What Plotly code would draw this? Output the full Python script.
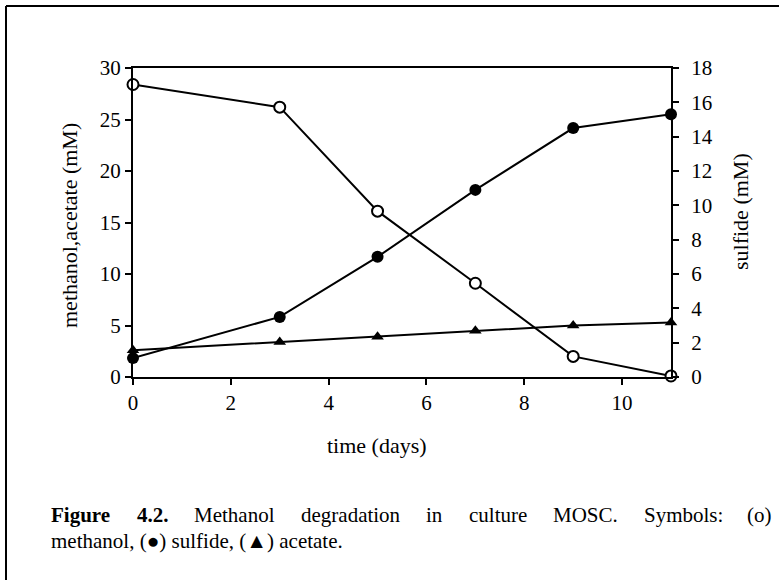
import plotly.graph_objects as go

# ---- data ----
time_days = [0, 3, 5, 7, 9, 11]
methanol = [28.4, 26.2, 16.1, 9.1, 2.0, 0.1]      # left axis (mM)
acetate = [2.6, 3.4, 3.9, 4.5, 5.0, 5.3]          # left axis (mM)
sulfide = [1.1, 3.5, 7.0, 10.9, 14.5, 15.3]       # right axis (mM)
x_ticks = [0, 2, 4, 6, 8, 10]
y_ticks = [0, 5, 10, 15, 20, 25, 30]
y2_ticks = [0, 2, 4, 6, 8, 10, 12, 14, 16, 18]

caption_line1 = [("Figure", True), ("4.2.", True), ("Methanol", False), ("degradation", False),
                 ("in", False), ("culture", False), ("MOSC.", False), ("Symbols:", False), ("(o)", False)]
caption_line2 = "methanol, (\u25cf) sulfide, (\u25b2) acetate."

W, H = 779, 580
L, R, T, B = 133, 671, 68, 377   # plot area in pixels
FONT = "Liberation Serif, Times New Roman, serif"
CAP_SIZE = 21
CAP_X0, CAP_X1 = 50, 773


def px(x):
    return (x - L) / (R - L)


def py(y):
    return (B - y) / (B - T)


# approximate Times widths (per 1000 em) for caption justification
REG = {" ": 250, "(": 333, ")": 333, ".": 250, ":": 278, ",": 250, "M": 889, "O": 722,
       "S": 556, "C": 667, "a": 444, "b": 500, "c": 444, "d": 500, "e": 444, "g": 500,
       "h": 500, "i": 278, "l": 278, "m": 778, "n": 500, "o": 500, "r": 333, "s": 389,
       "t": 278, "u": 500, "y": 500, "4": 500, "2": 500}
BOLD = dict(REG, F=611, u=556, r=444)


def text_w(s, bold):
    tbl = BOLD if bold else REG
    return sum(tbl.get(ch, 500) for ch in s) / 1000 * CAP_SIZE


fig = go.Figure()
fig.add_trace(go.Scatter(
    x=time_days, y=acetate, mode="lines+markers", name="acetate",
    line=dict(color="black", width=2),
    marker=dict(symbol="triangle-up", size=11, color="black"),
    cliponaxis=False))
fig.add_trace(go.Scatter(
    x=time_days, y=methanol, mode="lines+markers", name="methanol",
    line=dict(color="black", width=2),
    marker=dict(symbol="circle", size=11, color="white",
                line=dict(color="black", width=2)),
    cliponaxis=False))
fig.add_trace(go.Scatter(
    x=time_days, y=sulfide, mode="lines+markers", name="sulfide", yaxis="y2",
    line=dict(color="black", width=2),
    marker=dict(symbol="circle", size=12, color="black"),
    cliponaxis=False))

axis_common = dict(showgrid=False, zeroline=False, linecolor="black", linewidth=2,
                   ticks="outside", ticklen=6, tickwidth=1.5, tickcolor="black",
                   tickfont=dict(family=FONT, size=21, color="black"))

fig.update_layout(
    width=W, height=H,
    margin=dict(l=L, r=W - R, t=T, b=H - B, pad=0),
    paper_bgcolor="white", plot_bgcolor="white",
    showlegend=False,
    font=dict(family=FONT, color="black"),
    xaxis=dict(range=[0, 11], tickvals=x_ticks, mirror=True, **axis_common),
    yaxis=dict(range=[0, 30], tickvals=y_ticks, **axis_common),
    yaxis2=dict(range=[0, 18], tickvals=y2_ticks, overlaying="y", side="right",
                ticklabelstandoff=8, **axis_common),
)

ann = []
ann.append(dict(text="time (days)", xref="paper", yref="paper", x=px(377), y=py(446),
                showarrow=False, font=dict(size=22, family=FONT), xanchor="center", yanchor="middle"))
ann.append(dict(text="methanol,acetate (mM)", xref="paper", yref="paper", x=px(70), y=py(226),
                showarrow=False, textangle=-90, font=dict(size=22, family=FONT),
                xanchor="center", yanchor="middle"))
ann.append(dict(text="sulfide (mM)", xref="paper", yref="paper", x=px(740), y=py(212),
                showarrow=False, textangle=-90, font=dict(size=22, family=FONT),
                xanchor="center", yanchor="middle"))

# caption, first line justified word by word
widths = [text_w(w, b) for w, b in caption_line1]
gap = (CAP_X1 - CAP_X0 - sum(widths)) / (len(caption_line1) - 1)
xpos = CAP_X0
n = len(caption_line1)
for i, ((w, b), wd) in enumerate(zip(caption_line1, widths)):
    last = i == n - 1
    ann.append(dict(text=f"<b>{w}</b>" if b else w, xref="paper", yref="paper",
                    x=px(CAP_X1 if last else xpos), y=py(515), showarrow=False, borderpad=0,
                    font=dict(size=CAP_SIZE, family=FONT),
                    xanchor="right" if last else "left", yanchor="middle"))
    xpos += wd + gap
ann.append(dict(text=caption_line2, xref="paper", yref="paper", borderpad=0,
                x=px(CAP_X0), y=py(541), showarrow=False, font=dict(size=CAP_SIZE, family=FONT),
                xanchor="left", yanchor="middle"))
fig.update_layout(annotations=ann)

# outer frame (top and left edges visible)
fig.add_shape(type="line", xref="paper", yref="paper", x0=px(6), x1=px(779), y0=py(6), y1=py(6),
              line=dict(color="black", width=2))
fig.add_shape(type="line", xref="paper", yref="paper", x0=px(6), x1=px(6), y0=py(6), y1=py(580),
              line=dict(color="black", width=2))

fig.write_html("out.html", config={"displayModeBar": False},
               post_script="document.body.style.margin='0';document.body.style.overflow='hidden';")
